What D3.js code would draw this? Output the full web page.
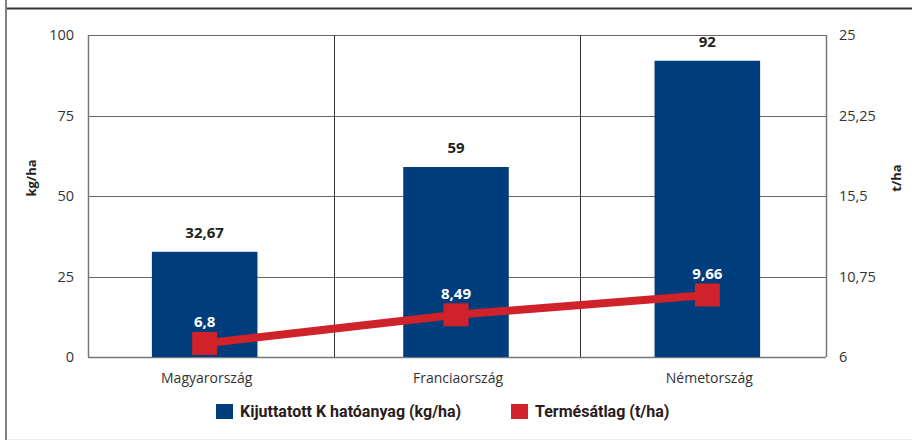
<!DOCTYPE html>
<html>
<head>
<meta charset="utf-8">
<script src="https://cdn.jsdelivr.net/npm/d3@7"></script>
<style>
  body { margin: 0; background: #fff; }
  svg { display: block; font-family: "Open Sans", "Noto Sans", sans-serif; }
</style>
</head>
<body>
<svg id="chart" width="912" height="441"></svg>
<script>
// data
const categories = ["Magyarország", "Franciaország", "Németország"];
const kValues = [32.67, 59, 92];            // kg/ha, bars
const yieldValues = [6.8, 8.49, 9.66];      // t/ha, line
const leftTicks = [0, 25, 50, 75, 100];
const rightTicks = [6, 10.75, 15.5, 20.25, 25];
const rightTickLabels = ["6", "10,75", "15,5", "25,25", "25"]; // as printed
const seriesNames = ["Kijuttatott K hatóanyag (kg/ha)", "Termésátlag (t/ha)"];

const fmt = v => String(v).replace(".", ",");
const blue = "#003d7c", red = "#d0222b";

const svg = d3.select("#chart");

// frame
svg.append("line").attr("x1", 6).attr("x2", 6).attr("y1", 0).attr("y2", 440)
  .attr("stroke", "#808080").attr("stroke-width", 2);
svg.append("line").attr("x1", 7).attr("x2", 912).attr("y1", 8.5).attr("y2", 8.5)
  .attr("stroke", "#333").attr("stroke-width", 2);
svg.append("line").attr("x1", 7).attr("x2", 912).attr("y1", 439.5).attr("y2", 439.5)
  .attr("stroke", "#eee").attr("stroke-width", 1);

const plot = { left: 88, right: 826, top: 35, bottom: 357 };

const yL = d3.scaleLinear().domain([0, 100]).range([plot.bottom, plot.top]);
const yR = d3.scaleLinear().domain([6, 25]).range([plot.bottom, plot.top]);
// grid bands
const xGrid = d3.scaleBand().domain(categories).range([plot.left, plot.right]);
// bars sit slightly wider apart than the grid
const x = d3.scaleBand().domain(categories).range([79, 833]).paddingInner(0.58).paddingOuter(0.29);

// horizontal gridlines
svg.append("g").selectAll("line").data(leftTicks).join("line")
  .attr("x1", plot.left).attr("x2", plot.right)
  .attr("y1", d => Math.round(yL(d)) + 0.5).attr("y2", d => Math.round(yL(d)) + 0.5)
  .attr("stroke", "#666").attr("stroke-width", 1);

// vertical lines: frame + category separators
const vx = [plot.left, ...categories.slice(1).map(c => xGrid(c)), plot.right];
svg.append("g").selectAll("line").data(vx).join("line")
  .attr("x1", d => Math.round(d) + 0.5).attr("x2", d => Math.round(d) + 0.5)
  .attr("y1", plot.top).attr("y2", plot.bottom)
  .attr("stroke", (d, i) => (i === 0 || i === vx.length - 1) ? "#777" : "#333")
  .attr("stroke-width", (d, i) => (i === 0 || i === vx.length - 1) ? 1.5 : 1);

// axes
const axL = svg.append("g").attr("transform", `translate(${plot.left},0)`)
  .call(d3.axisLeft(yL).tickValues(leftTicks).tickSize(0).tickPadding(14));
const axR = svg.append("g").attr("transform", `translate(${plot.right},0)`)
  .call(d3.axisRight(yR).tickValues(rightTicks).tickSize(0).tickPadding(13)
    .tickFormat((d, i) => rightTickLabels[i]));
[axL, axR].forEach(a => {
  a.select(".domain").remove();
  a.selectAll("text").attr("font-size", 14.5).attr("fill", "#333")
    .attr("font-family", "'Open Sans', sans-serif");
});

// bottom baseline
svg.append("line").attr("x1", plot.left).attr("x2", plot.right)
  .attr("y1", plot.bottom + 0.5).attr("y2", plot.bottom + 0.5)
  .attr("stroke", "#777").attr("stroke-width", 1.5);

// bars
svg.append("g").selectAll("rect").data(kValues).join("rect")
  .attr("x", (d, i) => x(categories[i]))
  .attr("width", x.bandwidth())
  .attr("y", d => yL(d))
  .attr("height", d => yL(0) - yL(d))
  .attr("fill", blue);

svg.append("g").selectAll("text").data(kValues).join("text")
  .attr("x", (d, i) => x(categories[i]) + x.bandwidth() / 2)
  .attr("y", d => yL(d) - 14)
  .attr("text-anchor", "middle").attr("font-size", 15).attr("font-weight", "bold")
  .attr("fill", "#222").text(d => fmt(d));

// category labels
svg.append("g").selectAll("text").data(categories).join("text")
  .attr("x", d => x(d) + x.bandwidth() / 2 + 2)
  .attr("y", 383)
  .attr("text-anchor", "middle").attr("font-size", 14).attr("fill", "#333")
  .text(d => d);

// line
const cx = i => x(categories[i]) + x.bandwidth() / 2;
svg.append("path").datum(yieldValues)
  .attr("d", d3.line().x((d, i) => cx(i)).y(d => yR(d)))
  .attr("fill", "none").attr("stroke", red).attr("stroke-width", 8);

svg.append("g").selectAll("rect").data(yieldValues).join("rect")
  .attr("x", (d, i) => cx(i) - 12.5).attr("y", d => yR(d) - 11.5)
  .attr("width", 25).attr("height", 23).attr("fill", red);

svg.append("g").selectAll("text").data(yieldValues).join("text")
  .attr("x", (d, i) => cx(i))
  .attr("y", d => yR(d) - 16)
  .attr("text-anchor", "middle").attr("font-size", 15).attr("font-weight", "bold")
  .attr("fill", "#fff").text(d => fmt(d));

// axis titles
svg.append("text").attr("transform", "translate(36,178) rotate(-90)")
  .attr("text-anchor", "middle").attr("font-size", 13).attr("font-weight", "bold")
  .attr("fill", "#222").text("kg/ha");
svg.append("text").attr("transform", "translate(901,178) rotate(-90)")
  .attr("text-anchor", "middle").attr("font-size", 13).attr("font-weight", "bold")
  .attr("fill", "#222").text("t/ha");

// legend
const legend = [
  { name: seriesNames[0], color: blue, x: 216 },
  { name: seriesNames[1], color: red, x: 511 }
];
const lg = svg.append("g").selectAll("g").data(legend).join("g")
  .attr("transform", d => `translate(${d.x},404)`);
lg.append("rect").attr("width", 17).attr("height", 15).attr("fill", d => d.color);
lg.append("text").attr("x", 24).attr("y", 13)
  .attr("font-size", 16).attr("font-weight", "bold").attr("fill", "#2a1c1c")
  .attr("font-family", "Roboto, sans-serif")
  .text(d => d.name);
</script>
</body>
</html>
